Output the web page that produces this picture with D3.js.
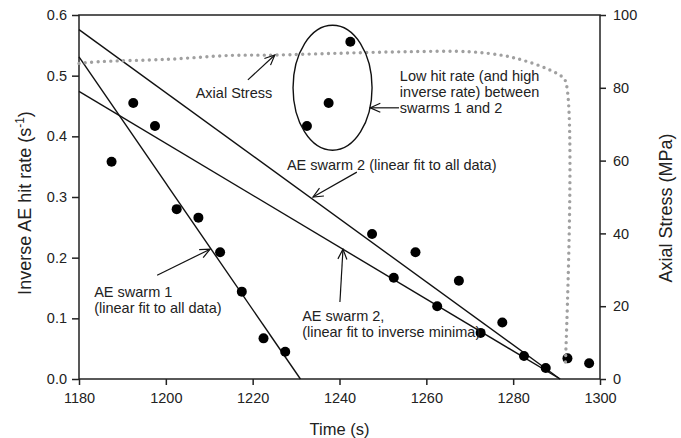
<!DOCTYPE html>
<html>
<head>
<meta charset="utf-8">
<script src="https://cdn.jsdelivr.net/npm/d3@7"></script>
<style>
  body { margin: 0; background: #fff; }
  svg { font-family: "Liberation Sans", Arial, sans-serif; }
</style>
</head>
<body>
<div id="chart"></div>
<script>
// inverse AE hit rate points
const hitTime = [1187.5, 1192.5, 1197.5, 1202.5, 1207.5, 1212.5, 1217.5, 1222.5, 1227.5,
                 1232.5, 1237.5, 1242.5, 1247.5, 1252.5, 1257.5, 1262.5, 1267.5, 1272.5,
                 1277.5, 1282.5, 1287.5, 1292.5, 1297.5];
const hitRate = [0.358, 0.455, 0.417, 0.280, 0.266, 0.209, 0.144, 0.067, 0.045,
                 0.417, 0.455, 0.556, 0.239, 0.167, 0.209, 0.120, 0.162, 0.076,
                 0.093, 0.038, 0.018, 0.034, 0.026];

// linear fits: start and end as [time, rate]
const fitNames = ["swarm1", "swarm2all", "swarm2min"];
const fitStart = [[1180, 0.531], [1180, 0.576], [1180, 0.474]];
const fitEnd = [[1231, 0], [1290.8, 0], [1290.8, 0]];

// axial stress (right axis, MPa)
const stressTime = [1180, 1185, 1200, 1215, 1225, 1240, 1255, 1270, 1278, 1283, 1287.5, 1290.5, 1292, 1292];
const stressVal = [86.7, 87.2, 87.8, 88.9, 89.0, 89.5, 89.9, 89.9, 88.8, 87.3, 85.4, 83.6, 82.0, 3.4];

const xTicks = [1180, 1200, 1220, 1240, 1260, 1280, 1300];
const yTicks = [0, 0.1, 0.2, 0.3, 0.4, 0.5, 0.6];
const y2Ticks = [0, 20, 40, 60, 80, 100];

const width = 681, height = 438;
const margin = { top: 15, right: 81, bottom: 59, left: 79 };

const svg = d3.select("#chart").append("svg")
    .attr("width", width)
    .attr("height", height);

svg.append("defs").append("marker")
    .attr("id", "arrow")
    .attr("viewBox", "0 0 12 12")
    .attr("refX", 11).attr("refY", 6)
    .attr("markerWidth", 12).attr("markerHeight", 12)
    .attr("markerUnits", "userSpaceOnUse")
    .attr("orient", "auto")
  .append("path")
    .attr("d", "M1,1.5 L11,6 L1,10.5")
    .attr("fill", "none")
    .attr("stroke", "#111")
    .attr("stroke-width", 1.2);

const x = d3.scaleLinear().domain([1180, 1300]).range([margin.left, width - margin.right]);
const y = d3.scaleLinear().domain([0, 0.6]).range([height - margin.bottom, margin.top]);
const y2 = d3.scaleLinear().domain([0, 100]).range([height - margin.bottom, margin.top]);

// frame
svg.append("rect")
    .attr("x", x(1180)).attr("y", y(0.6))
    .attr("width", x(1300) - x(1180)).attr("height", y(0) - y(0.6))
    .attr("fill", "none").attr("stroke", "#222").attr("stroke-width", 1.5);

const xAxis = svg.append("g")
    .attr("transform", `translate(0,${y(0)})`)
    .call(d3.axisBottom(x).tickValues(xTicks).tickFormat(d3.format("d")).tickSize(6).tickPadding(8));
const yAxis = svg.append("g")
    .attr("transform", `translate(${x(1180)},0)`)
    .call(d3.axisLeft(y).tickValues(yTicks).tickFormat(d3.format(".1f")).tickSize(7).tickPadding(5));
const y2Axis = svg.append("g")
    .attr("transform", `translate(${x(1300)},0)`)
    .call(d3.axisRight(y2).tickValues(y2Ticks).tickFormat(d3.format("d")).tickSize(6).tickPadding(7));

[xAxis, yAxis, y2Axis].forEach(g => {
    g.select(".domain").remove();
    g.selectAll("line").attr("stroke", "#222").attr("stroke-width", 1.5);
    g.selectAll("text").attr("fill", "#222").style("font-size", "14.5px")
        .style("font-family", "'Liberation Sans', Arial, sans-serif");
});

// axis titles
svg.append("text")
    .attr("x", (x(1180) + x(1300)) / 2).attr("y", 435)
    .attr("text-anchor", "middle").attr("fill", "#222")
    .style("font-size", "16.5px").text("Time (s)");

const yTitle = svg.append("text")
    .attr("transform", `translate(31,${(y(0) + y(0.6)) / 2 + 6}) rotate(-90)`)
    .attr("text-anchor", "middle").attr("fill", "#222")
    .style("font-size", "18px");
yTitle.append("tspan").text("Inverse AE hit rate (s");
yTitle.append("tspan").attr("dy", -7).style("font-size", "12px").text("-1");
yTitle.append("tspan").attr("dy", 7).text(")");

svg.append("text")
    .attr("transform", `translate(672,${(y(0) + y(0.6)) / 2 + 11}) rotate(-90)`)
    .attr("text-anchor", "middle").attr("fill", "#222")
    .style("font-size", "18px").text("Axial Stress (MPa)");

// fit lines
svg.selectAll("line.fit")
    .data(fitNames)
    .enter().append("line")
    .attr("class", "fit")
    .attr("x1", (d, i) => x(fitStart[i][0]))
    .attr("y1", (d, i) => y(fitStart[i][1]))
    .attr("x2", (d, i) => x(fitEnd[i][0]))
    .attr("y2", (d, i) => y(fitEnd[i][1]))
    .attr("stroke", "#111").attr("stroke-width", 1.4);

// points
svg.selectAll("circle.pt")
    .data(hitTime)
    .enter().append("circle")
    .attr("class", "pt")
    .attr("cx", d => x(d))
    .attr("cy", (d, i) => y(hitRate[i]))
    .attr("r", 5)
    .attr("fill", "#000");

// axial stress dotted curve
const stressLine = d3.line()
    .x(d => x(d[0]))
    .y(d => y2(d[1]))
    .curve(d3.curveCatmullRom.alpha(0.5));

svg.append("path")
    .datum(stressTime.map((t, i) => [t, stressVal[i]]))
    .attr("d", stressLine)
    .attr("fill", "none")
    .attr("stroke", "#a0a0a0")
    .attr("stroke-width", 3.4)
    .attr("stroke-linecap", "round")
    .attr("stroke-dasharray", "0 6.4");

// ellipse around low hit rate points
svg.append("ellipse")
    .attr("cx", x(1238.4)).attr("cy", y(0.480))
    .attr("rx", x(1238.4 + 9.1) - x(1238.4))
    .attr("ry", y(0.480) - y(0.480 + 0.103))
    .attr("fill", "none").attr("stroke", "#111").attr("stroke-width", 1.4);

// annotations
const notes = [
    { t: 1215.7, v: 0.463, anchor: "middle", lines: ["Axial Stress"] },
    { t: 1253.9, v: 0.491, anchor: "start", lines: ["Low hit rate (and high", "inverse rate) between", "swarms 1 and 2"] },
    { t: 1227.9, v: 0.344, anchor: "start", lines: ["AE swarm 2 (linear fit to all data)"] },
    { t: 1183.5, v: 0.135, anchor: "start", lines: ["AE swarm 1", "(linear fit to all data)"] },
    { t: 1231.4, v: 0.095, anchor: "start", lines: ["AE swarm 2,", "(linear fit to inverse minima)"] }
];

notes.forEach(n => {
    const txt = svg.append("text")
        .attr("x", x(n.t)).attr("y", y(n.v))
        .attr("text-anchor", n.anchor).attr("fill", "#222")
        .style("font-size", "14.5px");
    n.lines.forEach((l, i) => {
        txt.append("tspan").attr("x", x(n.t)).attr("dy", i ? 16 : 0).text(l);
    });
});

const arrows = [
    [[1218.9, 0.493], [1225.1, 0.534]],
    [[1253.7, 0.447], [1247.1, 0.447]],
    [[1244.0, 0.341], [1233.9, 0.300]],
    [[1198.0, 0.171], [1210.2, 0.214]],
    [[1240.1, 0.127], [1240.8, 0.214]]
];

svg.selectAll("line.arrow")
    .data(arrows)
    .enter().append("line")
    .attr("class", "arrow")
    .attr("x1", d => x(d[0][0])).attr("y1", d => y(d[0][1]))
    .attr("x2", d => x(d[1][0])).attr("y2", d => y(d[1][1]))
    .attr("stroke", "#111").attr("stroke-width", 1.2)
    .attr("marker-end", "url(#arrow)");
</script>
</body>
</html>
